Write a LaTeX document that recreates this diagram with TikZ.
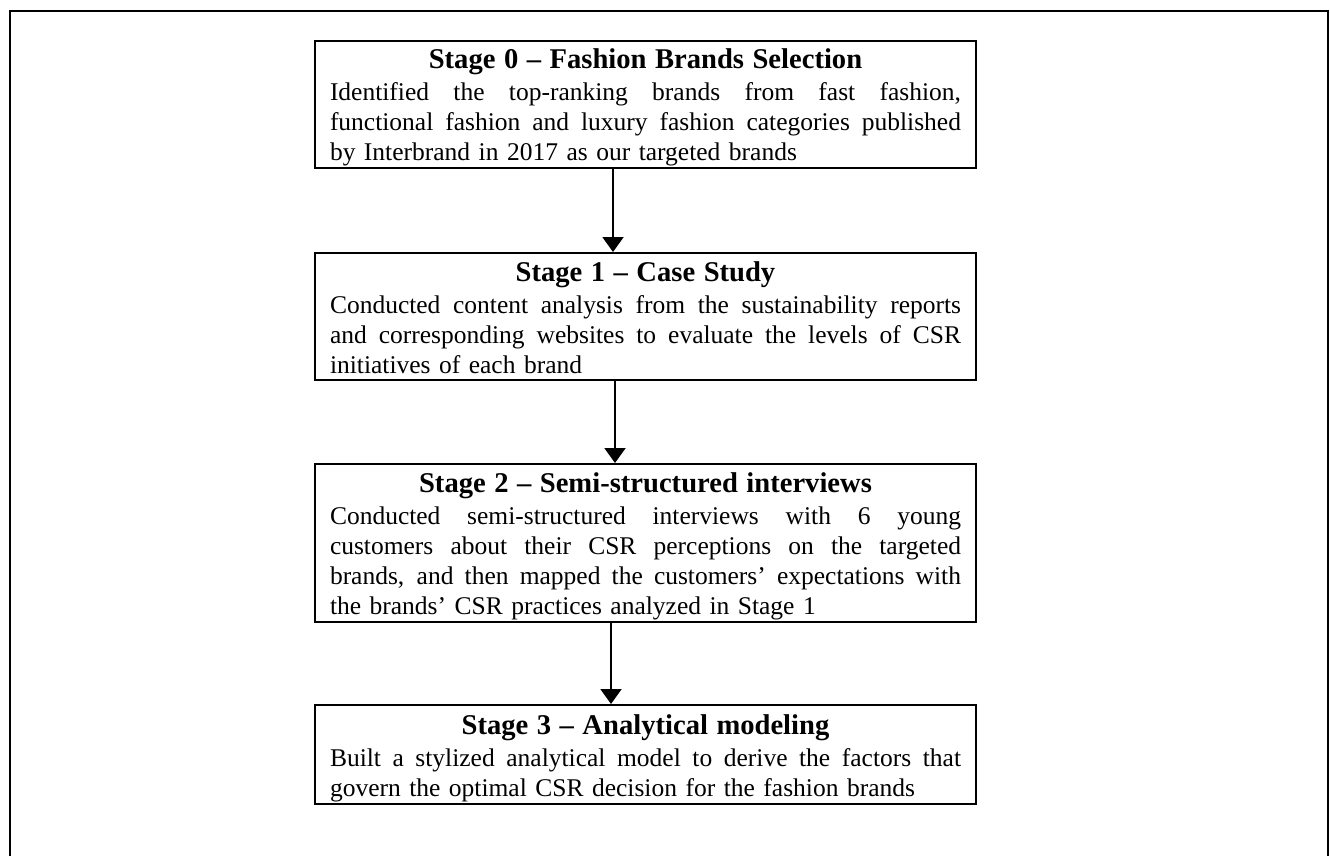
\documentclass[tikz,border=0pt]{standalone}
\usepackage{fontspec}
\setmainfont{Liberation Serif}
\usetikzlibrary{arrows.meta}
\setlength{\parindent}{0pt}
\newcommand{\myjl}[1]{\makebox[\linewidth][s]{\spaceskip=0.25em plus 1fil minus 0.05em\xspaceskip=\spaceskip #1}\par}
\newcommand{\mylast}[1]{\makebox[\linewidth][l]{\rule[-7pt]{0pt}{7pt}#1}\par}
\newcommand{\mytitle}[1]{\makebox[\linewidth][c]{\rule{0pt}{28pt}\fontsize{28.6}{30}\selectfont\bfseries #1}\par\vspace{2pt}}
\tikzset{
  stagebox/.style={draw=black, line width=2pt, inner xsep=15pt, inner ysep=0pt,
    text width=631pt, minimum width=661pt, anchor=north,
    font=\fontsize{25.5}{30}\selectfont},
  arr/.style={line width=2pt, -{Triangle[width=21pt,length=15pt]}},
  frame/.style={draw=black, line width=2pt}
}
\begin{document}
\begin{tikzpicture}[x=1pt,y=-1pt]
\useasboundingbox (0,0) rectangle (1330,856);
\clip (0,0) rectangle (1330,856);
\draw[frame] (10,11) rectangle (1328,880);
\node[stagebox, minimum height=127pt] (s0) at (645.5,40) {%
\mytitle{Stage 0 -- Fashion Brands Selection}
\myjl{Identified the top-ranking brands from fast fashion,}
\myjl{functional fashion and luxury fashion categories published}
\mylast{by Interbrand in 2017 as our targeted brands}};
\node[stagebox, minimum height=127pt] (s1) at (645.5,252) {%
\mytitle{Stage 1 -- Case Study}
\myjl{Conducted content analysis from the sustainability reports}
\myjl{and corresponding websites to evaluate the levels of CSR}
\mylast{initiatives of each brand}};
\node[stagebox, minimum height=158pt] (s2) at (645.5,463) {%
\mytitle{Stage 2 -- Semi-structured interviews}
\myjl{Conducted semi-structured interviews with 6 young}
\myjl{customers about their CSR perceptions on the targeted}
\myjl{brands, and then mapped the customers' expectations with}
\mylast{the brands' CSR practices analyzed in Stage 1}};
\node[stagebox, minimum height=99pt] (s3) at (645.5,704) {%
\mytitle{Stage 3 -- Analytical modeling}
\myjl{Built a stylized analytical model to derive the factors that}
\mylast{govern the optimal CSR decision for the fashion brands}};
\draw[arr] ([xshift=-32.5pt]s0.south) -- ([xshift=-32.5pt]s1.north);
\draw[arr] ([xshift=-30.5pt]s1.south) -- ([xshift=-30.5pt]s2.north);
\draw[arr] ([xshift=-34.5pt]s2.south) -- ([xshift=-34.5pt]s3.north);
\end{tikzpicture}
\end{document}
